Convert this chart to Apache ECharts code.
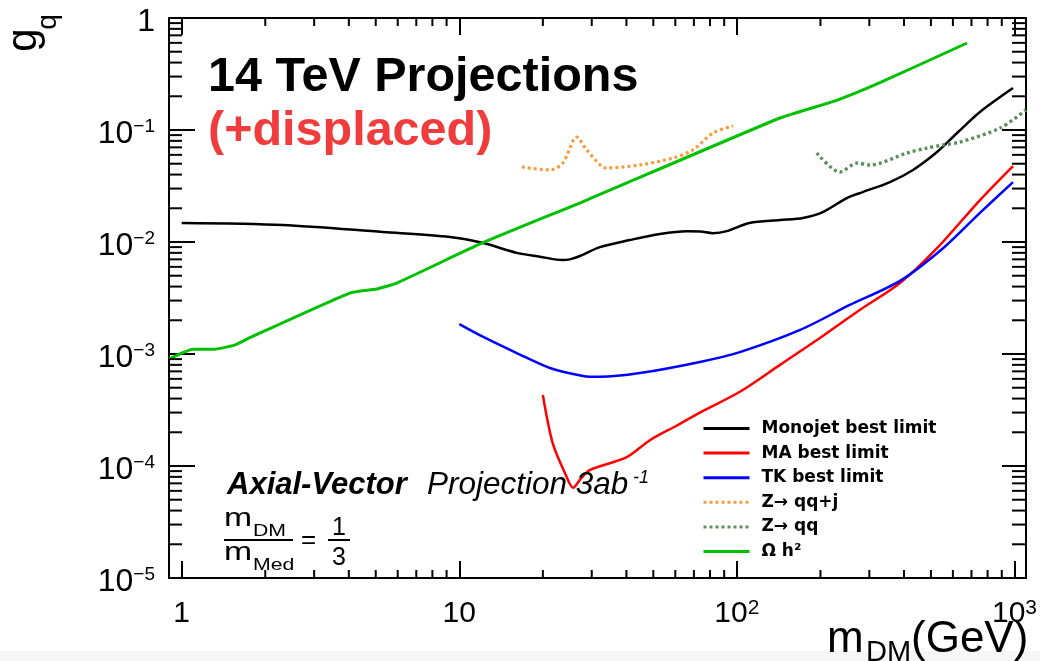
<!DOCTYPE html>
<html><head><meta charset="utf-8">
<script src="https://cdn.jsdelivr.net/npm/echarts@6/dist/echarts.min.js"></script>
<style>html,body{margin:0;padding:0;background:#fff}#c{width:1040px;height:661px}</style>
</head><body><div id="c"></div>
<script>
const FONT = '"Liberation Sans", Arial, Helvetica, sans-serif';
const X_MIN = 0.9, X_MAX = 1100, Y_MIN = 1e-5, Y_MAX = 1;

// tick labels
const xTickExps = [0, 1, 2, 3];
const xTickLabels = ['1', '10', '10^2', '10^3'];
const yTickExps = [-5, -4, -3, -2, -1, 0];
const yTickLabels = ['10^\u22125', '10^\u22124', '10^\u22123', '10^\u22122', '10^\u22121', '1'];
const minorMultipliers = [2, 3, 4, 5, 6, 7, 8, 9];
const xMinorDecades = [1, 10, 100];
const yMinorDecades = [1e-5, 1e-4, 1e-3, 1e-2, 1e-1];

// series data (m_DM in GeV, g_q)
const monojetM = [1.0, 2.31, 5.3, 9.25, 12.2, 16.1, 19.5, 23.6, 25.0, 27.2, 32.1, 41.1, 52.8, 66.1, 74, 82, 92, 111, 143, 173, 204, 249, 284, 356, 431, 526, 621, 751, 988];
const monojetG = [0.0148, 0.0142, 0.0123, 0.0111, 0.0098, 0.0080, 0.0074, 0.0069, 0.0070, 0.0075, 0.0090, 0.0104, 0.0118, 0.0125, 0.0124, 0.0120, 0.0125, 0.0148, 0.0157, 0.0164, 0.0185, 0.0247, 0.0279, 0.0343, 0.044, 0.0636, 0.094, 0.145, 0.237];

const maM = [20.0, 21.7, 24.2, 25.7, 27.5, 29.5, 40.1, 48.6, 60.8, 73.6, 102.5, 143, 199, 277, 387, 526, 751, 988];
const maG = [4.3e-4, 1.6e-4, 8.3e-5, 6.4e-5, 7.8e-5, 9.2e-5, 1.2e-4, 1.7e-4, 2.3e-4, 3.0e-4, 4.6e-4, 8.0e-4, 1.39e-3, 2.47e-3, 4.3e-3, 8.8e-3, 0.0237, 0.0477];

const tkM = [10.0, 12.2, 16.1, 21.2, 27.9, 32.1, 44.7, 73.6, 102.5, 169, 255, 387, 553, 751, 988];
const tkG = [1.85e-3, 1.42e-3, 1.02e-3, 7.5e-4, 6.37e-4, 6.25e-4, 6.76e-4, 8.5e-4, 1.04e-3, 1.64e-3, 2.74e-3, 4.5e-3, 8.8e-3, 0.0182, 0.0343];

const zqqjM = [16.8, 21.2, 23.6, 26.5, 28.8, 34.0, 44.7, 58.8, 69.4, 82, 96.8];
const zqqjG = [0.0467, 0.044, 0.0507, 0.0866, 0.0663, 0.0458, 0.0487, 0.0562, 0.0663, 0.094, 0.109];

const zqqM = [194, 235, 271, 301, 410, 484, 553, 636, 887, 1100];
const zqqG = [0.0623, 0.0422, 0.0507, 0.0487, 0.0623, 0.069, 0.0735, 0.078, 0.104, 0.151];

const omegaM = [0.9, 1.1, 1.3, 1.55, 1.76, 4.03, 5.04, 5.95, 12.1, 28.8, 143, 230, 326, 675];
const omegaG = [9.0e-4, 1.1e-3, 1.1e-3, 1.2e-3, 1.4e-3, 3.5e-3, 3.8e-3, 4.3e-3, 9.8e-3, 0.0237, 0.128, 0.185, 0.263, 0.598];

const seriesNames = ['Monojet best limit', 'MA best limit', 'TK best limit', 'Z\u2192 qq+j', 'Z\u2192 qq', '\u03A9 h\u00B2'];

function zip(a, b) { return a.map((v, i) => [v, b[i]]); }
function labelFor(v, exps, labels) {
  const lv = Math.log10(v), e = Math.round(lv);
  if (Math.abs(lv - e) > 1e-6) return '';
  const i = exps.indexOf(e);
  if (i < 0) return '';
  const p = labels[i].split('^');
  return p.length === 1 ? '{b|' + p[0] + '}' : '{b|' + p[0] + '}{s|' + p[1] + '}';
}
const xMinor = [], yMinor = [];
xMinorDecades.forEach(d => minorMultipliers.forEach(k => xMinor.push([d * k, Y_MIN])));
yMinorDecades.forEach(d => minorMultipliers.forEach(k => yMinor.push([X_MIN, d * k])));

const TICK = { color: '#000', width: 2 };
function axisX(pos, showLabel) {
  return {
    type: 'log', logBase: 10, min: X_MIN, max: X_MAX, position: pos,
    axisLine: { show: true, onZero: false, lineStyle: { color: '#000', width: 2 } },
    axisTick: { show: true, inside: true, length: 17, lineStyle: TICK },
    splitLine: { show: false }, minorTick: { show: false },
    axisLabel: {
      show: showLabel, margin: 20, interval: 0,
      formatter: v => labelFor(v, xTickExps, xTickLabels),
      rich: {
        b: { fontFamily: FONT, fontSize: 30, color: '#000', lineHeight: 32 },
        s: { fontFamily: FONT, fontSize: 21, color: '#000', verticalAlign: 'top', lineHeight: 21 }
      }
    }
  };
}
function axisY(pos, showLabel, tickLen) {
  return {
    type: 'log', logBase: 10, min: Y_MIN, max: Y_MAX, position: pos,
    axisLine: { show: true, onZero: false, lineStyle: { color: '#000', width: 2 } },
    axisTick: { show: true, inside: true, length: tickLen, lineStyle: TICK },
    splitLine: { show: false }, minorTick: { show: false },
    axisLabel: {
      show: showLabel, margin: 14, interval: 0, padding: [8, 0, 0, 0],
      formatter: v => labelFor(v, yTickExps, yTickLabels),
      rich: {
        b: { fontFamily: FONT, fontSize: 32, color: '#000', lineHeight: 34 },
        s: { fontFamily: FONT, fontSize: 19, color: '#000', verticalAlign: 'top', lineHeight: 19 }
      }
    }
  };
}

function lineSeries(name, m, g, color, width, dotted, smooth) {
  return {
    name, type: 'line', data: zip(m, g), symbol: 'none', showSymbol: false, smooth: smooth,
    clip: true, z: 3,
    lineStyle: { color, width, type: dotted ? [3, 3] : 'solid' },
    itemStyle: { color }
  };
}

function txt(text, x, y, size, o) {
  o = o || {};
  return {
    type: 'text', x, y, rotation: o.rot || 0, scaleX: o.sx || 1, z: 100,
    style: {
      text, fill: o.color || '#000', align: o.align || 'left', verticalAlign: 'middle',
      font: (o.style || 'normal') + ' ' + (o.weight || 'normal') + ' ' + size + 'px ' + FONT
    }
  };
}

const option = {
  backgroundColor: '#fff',
  animation: false,
  grid: { left: 169, top: 18, width: 858, height: 560, containLabel: false },
  xAxis: [axisX('bottom', true), axisX('top', false)],
  yAxis: [axisY('left', true, 26), axisY('right', false, 24)],
  legend: {
    data: seriesNames, orient: 'vertical', left: 702, top: 420, padding: 0,
    itemWidth: 46, itemHeight: 17, itemGap: 7.6, selectedMode: false,
    itemStyle: { opacity: 0 },
    lineStyle: { width: 3 },
    textStyle: { fontFamily: '"DejaVu Sans", "Liberation Sans", sans-serif', fontWeight: 'bold', fontSize: 17, color: '#000', padding: [0, 0, 0, 7] }
  },
  series: [
    lineSeries(seriesNames[0], monojetM, monojetG, '#000000', 2.5, false, 0.3),
    lineSeries(seriesNames[1], maM, maG, '#ff0000', 2.5, false, 0.3),
    lineSeries(seriesNames[2], tkM, tkG, '#0000ff', 2.5, false, 0.3),
    lineSeries(seriesNames[3], zqqjM, zqqjG, '#f99c40', 3.2, true, 0.3),
    lineSeries(seriesNames[4], zqqM, zqqG, '#5b8f5b', 3.4, true, 0.3),
    lineSeries(seriesNames[5], omegaM, omegaG, '#00c000', 3, false, 0.15),
    {
      name: '_xminor', type: 'custom', data: xMinor, clip: false, silent: true, z: 5,
      renderItem: (params, api) => {
        const v = api.value(0);
        const b = api.coord([v, Y_MIN]), t = api.coord([v, Y_MAX]);
        return { type: 'group', children: [
          { type: 'line', shape: { x1: b[0], y1: b[1], x2: b[0], y2: b[1] - 8 }, style: { stroke: '#000', lineWidth: 2 } },
          { type: 'line', shape: { x1: t[0], y1: t[1], x2: t[0], y2: t[1] + 8 }, style: { stroke: '#000', lineWidth: 2 } }
        ] };
      }
    },
    {
      name: '_yminor', type: 'custom', data: yMinor, clip: false, silent: true, z: 5,
      renderItem: (params, api) => {
        const v = api.value(1);
        const l = api.coord([X_MIN, v]), r = api.coord([X_MAX, v]);
        return { type: 'group', children: [
          { type: 'line', shape: { x1: l[0], y1: l[1], x2: l[0] + 13, y2: l[1] }, style: { stroke: '#000', lineWidth: 2 } },
          { type: 'line', shape: { x1: r[0], y1: r[1], x2: r[0] - 14, y2: r[1] }, style: { stroke: '#000', lineWidth: 2 } }
        ] };
      }
    }
  ],
  graphic: [
    { type: 'rect', shape: { x: 0, y: 651, width: 1040, height: 10 }, style: { fill: '#f6f6f6' }, z: -10 },
    txt('14 TeV Projections', 208, 78, 48.5, { weight: 'bold' }),
    txt('(+displaced)', 208, 132, 48.5, { weight: 'bold', color: '#f03c3c' }),
    txt('g', 24, 40, 42, { rot: Math.PI / 2, align: 'center' }),
    txt('q', 48, 22, 28, { rot: Math.PI / 2, align: 'center' }),
    txt('m', 827, 640, 44),
    txt('DM', 866, 653, 29),
    txt('(GeV)', 911, 640, 44),
    txt('Axial-Vector', 227, 485, 31, { weight: 'bold', style: 'italic' }),
    txt('Projection 3ab', 427, 485, 31.5, { style: 'italic' }),
    txt('-1', 633, 478, 18, { style: 'italic' }),
    txt('m', 224, 519, 25, { sx: 1.35 }),
    txt('DM', 253, 531, 17, { sx: 1.25 }),
    { type: 'line', shape: { x1: 224, y1: 540, x2: 293, y2: 540 }, style: { stroke: '#000', lineWidth: 2 }, z: 100 },
    txt('m', 224, 553, 25, { sx: 1.35 }),
    txt('Med', 253, 565, 17, { sx: 1.25 }),
    txt('=', 301, 541, 26),
    txt('1', 339, 528, 25, { align: 'center' }),
    { type: 'line', shape: { x1: 328, y1: 540, x2: 350, y2: 540 }, style: { stroke: '#000', lineWidth: 2 }, z: 100 },
    txt('3', 339, 558, 25, { align: 'center' })
  ]
};
const chart = echarts.init(document.getElementById('c'), null, { renderer: 'canvas', width: 1040, height: 661 });
chart.setOption(option);
</script></body></html>
